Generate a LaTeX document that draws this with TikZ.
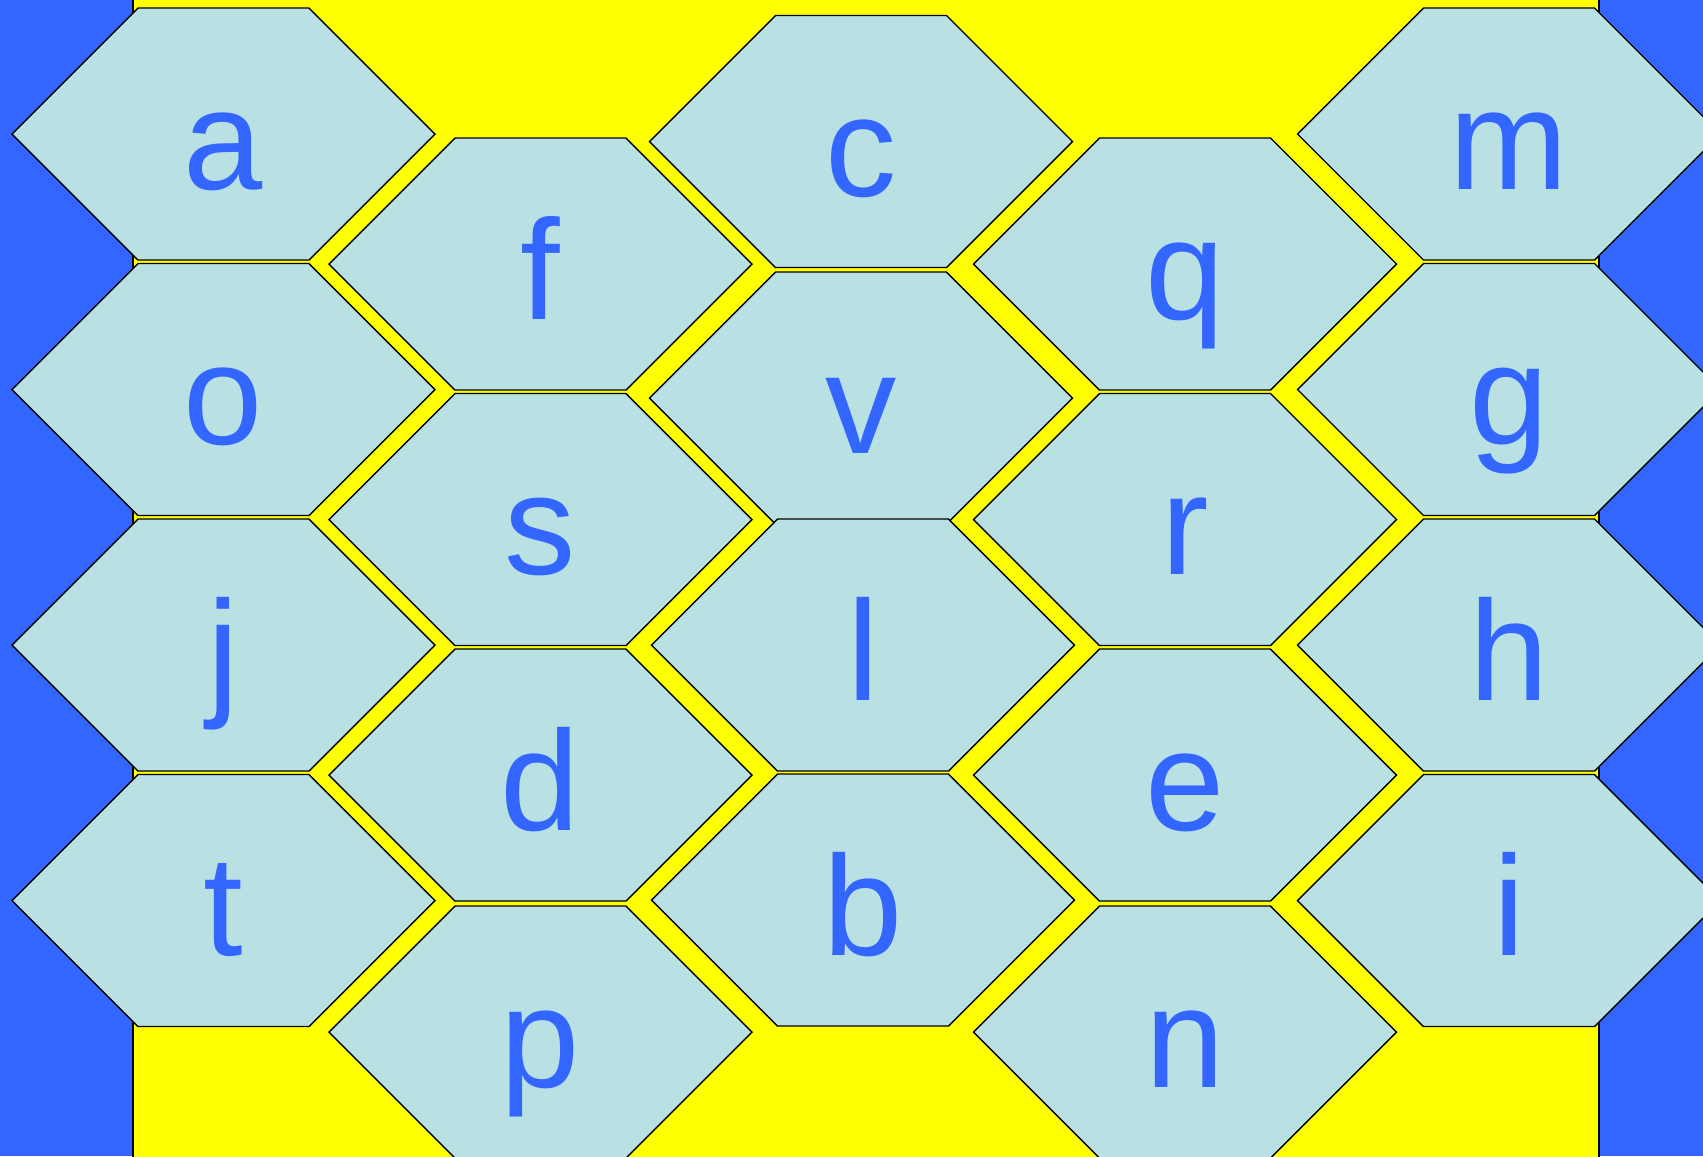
\documentclass[tikz,border=0pt]{standalone}
\usepackage{fontspec}
\setmainfont{Liberation Sans}
\definecolor{backblue}{HTML}{3366FF}
\definecolor{field}{HTML}{FFFF00}
\definecolor{cellfill}{HTML}{B9E0E3}

\begin{document}
\begin{tikzpicture}[x=0.01cm,y=-0.01cm,
 hexcell/.style={draw=black,line width=.4pt,fill=cellfill,line join=miter},
 letter/.style={text=backblue,font=\fontsize{40.5}{40.5}\selectfont,anchor=base,inner sep=0pt}]
\useasboundingbox (0,0) rectangle (1703,1156);
\clip (0,0) rectangle (1703,1156);
\fill[backblue] (0,0) rectangle (1703,1156);
\draw[fill=field,line width=.5pt] (133,-10) rectangle (1599,1170);
\foreach \x/\y/\n in {223.5/134/a,223.5/389.5/o,223.5/645/j,223.5/900.5/t,
 540.5/264/f,540.5/519.5/s,540.5/775/d,540.5/1032/p,
 861/141.5/c,861/398/v,863/645/l,863/900/b,
 1185/264/q,1185/519.5/r,1185/775/e,1185/1032/n,
 1509/134/m,1509/389.5/g,1509/645/h,1509/900.5/i}{
 \draw[hexcell] (\x-211.5,\y) -- ++(126,-126) -- ++(171,0) -- ++(126,126)
  -- ++(-126,126) -- ++(-171,0) -- cycle;
 \node[letter] (\n) at (\x,\y+55) {\n};
}
\end{tikzpicture}
\end{document}
